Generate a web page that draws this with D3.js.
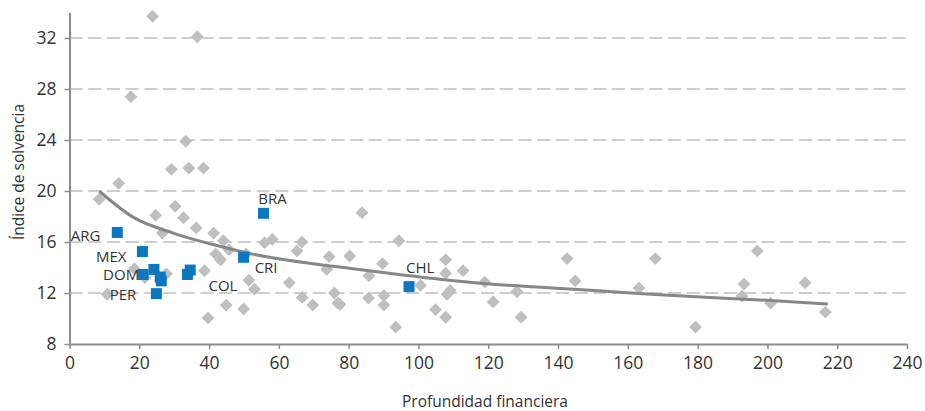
<!DOCTYPE html>
<html>
<head>
<meta charset="utf-8">
<script src="https://cdn.jsdelivr.net/npm/d3@7"></script>
<style>
  html, body { margin: 0; padding: 0; background: #fff; }
  text { font-family: "Open Sans", "Noto Sans", sans-serif; fill: #333; }
</style>
</head>
<body>
<svg id="chart" width="925" height="411"></svg>
<script>
// Other economies: financial depth (x) vs solvency index (y)
const otherX = [23.8, 36.6, 17.6, 33.3, 29.2, 34.2, 38.4, 14.1, 8.5, 24.7, 30.3, 32.7, 36.3, 26.6,
  41.3, 44.1, 45.7, 41.9, 43.3, 50.6, 55.9, 58.1, 66.6, 65.2, 38.7, 18.6, 27.8, 21.6, 10.8, 39.7,
  44.9, 49.9, 51.4, 53.0, 63.0, 66.7, 69.7, 74.4, 73.7, 75.9, 76.9, 83.8, 94.4, 80.3, 89.7, 85.8,
  77.5, 85.7, 90.1, 90.1, 93.5, 100.6, 107.8, 107.8, 109.1, 108.2, 104.9, 107.8, 112.8, 119.0,
  121.4, 128.2, 129.4, 142.6, 144.9, 163.2, 167.9, 179.4, 193.3, 192.7, 197.1, 200.9, 210.8, 216.6];
const otherY = [33.7, 32.1, 27.4, 23.9, 21.7, 21.8, 21.8, 20.6, 19.35, 18.1, 18.8, 17.9, 17.1, 16.7,
  16.7, 16.1, 15.4, 15.05, 14.6, 15.05, 15.95, 16.2, 16.0, 15.3, 13.75, 13.9, 13.5, 13.2, 11.9, 10.05,
  11.05, 10.75, 13.0, 12.3, 12.8, 11.65, 11.05, 14.85, 13.85, 12.0, 11.2, 18.3, 16.1, 14.9, 14.3, 13.35,
  11.1, 11.6, 11.8, 11.05, 9.33, 12.6, 14.6, 13.55, 12.2, 11.9, 10.7, 10.1, 13.75, 12.85,
  11.3, 12.1, 10.1, 14.7, 12.95, 12.4, 14.7, 9.33, 12.7, 11.75, 15.3, 11.2, 12.8, 10.5];

// Latin American economies (highlighted)
const latamX = [13.7, 20.9, 21.1, 24.2, 26.0, 26.3, 24.9, 34.6, 33.8, 55.6, 49.9, 97.3];
const latamY = [16.75, 15.25, 13.45, 13.85, 13.25, 12.95, 11.95, 13.8, 13.45, 18.25, 14.8, 12.5];

// Country labels and the point each one names
const labelText = ["ARG", "MEX", "DOM", "PER", "COL", "CRI", "BRA", "CHL"];
const labelX = [13.7, 20.9, 21.1, 24.9, 33.8, 49.9, 55.6, 97.3];
const labelY = [16.75, 15.25, 13.45, 11.95, 13.45, 14.8, 18.25, 12.5];

// Logarithmic trend line, sampled along its length
const trendX = [8.5, 18.2, 29.7, 41.1, 52.5, 69.7, 80.1, 94.4, 108.7, 123, 137.3, 151.6, 167.8, 184.9, 202, 217.3];
const trendY = [20.0, 17.95, 16.7, 15.8, 15.05, 14.3, 13.95, 13.45, 13.0, 12.65, 12.42, 12.18, 11.88, 11.63, 11.4, 11.14];

const xTicks = [0, 20, 40, 60, 80, 100, 120, 140, 160, 180, 200, 220, 240];
const yTicks = [8, 12, 16, 20, 24, 28, 32];

const svg = d3.select("#chart");
const x = d3.scaleLinear().domain([0, 240]).range([69.5, 907]);
const y = d3.scaleLinear().domain([8, 34]).range([344, 12.5]);

// dashed horizontal gridlines
svg.append("g")
  .selectAll("line")
  .data(yTicks.filter(t => t > 8))
  .join("line")
  .attr("x1", x(0)).attr("x2", x(240))
  .attr("y1", d => y(d)).attr("y2", d => y(d))
  .attr("stroke", "#bfbfbf")
  .attr("stroke-width", 1.6)
  .attr("stroke-dasharray", "13.3,5.4");

// axes
const xAxis = svg.append("g")
  .attr("transform", `translate(0,${y(8)})`)
  .call(d3.axisBottom(x).tickValues(xTicks).tickSize(5).tickPadding(8).tickSizeOuter(0));
const yAxis = svg.append("g")
  .attr("transform", `translate(${x(0)},0)`)
  .call(d3.axisLeft(y).tickValues(yTicks).tickSize(5).tickPadding(8).tickSizeOuter(0));
[xAxis, yAxis].forEach(g => {
  g.select(".domain").attr("stroke", "#8c8c8c").attr("stroke-width", 2);
  g.selectAll(".tick line").attr("stroke", "#8c8c8c").attr("stroke-width", 1.5);
  g.selectAll(".tick text").style("font-family", "'Open Sans', sans-serif")
    .style("font-size", "17.5px").attr("fill", "#333");
});

// grey diamonds
const square = d3.symbol().type(d3.symbolSquare).size(82);
svg.append("g")
  .selectAll("path")
  .data(otherX.map((v, i) => [v, otherY[i]]))
  .join("path")
  .attr("d", square)
  .attr("transform", d => `translate(${x(d[0])},${y(d[1])}) rotate(45)`)
  .attr("fill", "#bfbfc1");

// trend line
const line = d3.line().x(d => x(d[0])).y(d => y(d[1])).curve(d3.curveMonotoneX);
svg.append("path")
  .datum(trendX.map((v, i) => [v, trendY[i]]))
  .attr("d", line)
  .attr("fill", "none")
  .attr("stroke", "#878787")
  .attr("stroke-width", 3);

// blue squares
const bigSquare = d3.symbol().type(d3.symbolSquare).size(121);
svg.append("g")
  .selectAll("path")
  .data(latamX.map((v, i) => [v, latamY[i]]))
  .join("path")
  .attr("d", bigSquare)
  .attr("transform", d => `translate(${x(d[0])},${y(d[1])})`)
  .attr("fill", "#0b77c0");

// label placement relative to its square: [dx, dy, anchor]
const place = {
  ARG: [-17, 3, "end"], MEX: [-16, 5, "end"], DOM: [-4, 0, "end"], PER: [-20, 1, "end"],
  COL: [21, 11, "start"], CRI: [11, 10, "start"], BRA: [9, -14.5, "middle"], CHL: [-3, -19, "start"]
};
svg.append("g")
  .selectAll("text")
  .data(labelText.map((t, i) => ({ t, x: labelX[i], y: labelY[i] })))
  .join("text")
  .attr("x", d => x(d.x) + place[d.t][0])
  .attr("y", d => y(d.y) + place[d.t][1])
  .attr("dy", "0.35em")
  .attr("text-anchor", d => place[d.t][2])
  .style("font-size", "15px")
  .text(d => d.t);

// axis titles
svg.append("text")
  .attr("x", 485).attr("y", 402).attr("dy", "0.35em")
  .attr("text-anchor", "middle")
  .style("font-size", "15.5px")
  .text("Profundidad financiera");
svg.append("text")
  .attr("transform", "translate(19,172) rotate(-90)")
  .attr("dy", "0.35em")
  .attr("text-anchor", "middle")
  .style("font-size", "15.5px")
  .text("Índice de solvencia");
</script>
</body>
</html>
